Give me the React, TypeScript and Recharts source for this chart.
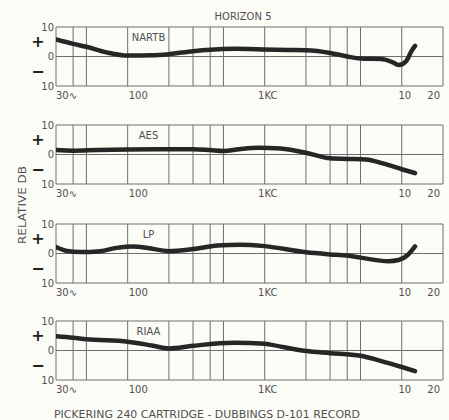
import React from 'react';
import {
  LineChart,
  Line,
  XAxis,
  YAxis,
  CartesianGrid,
  ReferenceDot,
} from 'recharts';

// frequency grid (Hz) shared by all four panels
const gridFreqs = [30, 40, 50, 100, 200, 300, 400, 500, 1000, 2000, 3000, 4000, 5000, 10000, 20000];
const freqLabels: Record<number, string> = {
  30: '30\u223F',
  100: '100',
  1000: '1KC',
  10000: '10',
  20000: '20',
};
const dbTicks = [-10, -5, 0, 5, 10];
const dbLabels: Record<number, string> = { 10: '10', 5: '+', 0: '0', [-5]: '\u2212', [-10]: '10' };

// NARTB curve
const nartbFreq = [30, 40, 50, 70, 100, 150, 200, 300, 400, 600, 1000, 1500, 2000, 3000, 4000, 5000, 7300, 8600, 9500, 10800, 11800, 12500];
const nartbDb = [5.8, 4.3, 3.3, 1.4, 0.3, 0.4, 0.8, 1.8, 2.3, 2.6, 2.4, 2.2, 2.1, 1.2, 0.0, -0.7, -0.9, -2.0, -2.9, -1.5, 1.9, 3.6];

// AES curve
const aesFreq = [30, 40, 60, 100, 200, 300, 400, 500, 650, 900, 1300, 2000, 3000, 4000, 5500, 7500, 10000, 12500];
const aesDb = [1.5, 1.3, 1.5, 1.7, 1.8, 1.8, 1.5, 1.2, 1.8, 2.3, 2.0, 0.6, -1.3, -1.5, -1.7, -3.2, -5.0, -6.3];

// LP curve
const lpFreq = [30, 36, 45, 63, 83, 110, 140, 200, 300, 450, 660, 1000, 2000, 3000, 4000, 5000, 8000, 9500, 11000, 12500];
const lpDb = [2.2, 0.9, 0.5, 0.8, 1.9, 2.4, 1.9, 0.8, 1.5, 2.7, 3.0, 2.5, 0.4, -0.3, -0.7, -1.4, -2.6, -2.2, -0.6, 2.4];

// RIAA curve
const riaaFreq = [30, 40, 50, 100, 150, 200, 300, 600, 1000, 1100, 2000, 3000, 5000, 7000, 10000, 12500];
const riaaDb = [4.8, 4.3, 3.8, 3.0, 1.7, 0.7, 1.6, 2.6, 2.3, 2.0, -0.2, -0.9, -1.8, -3.5, -5.6, -7.0];

const panelNames = ['NARTB', 'AES', 'LP', 'RIAA'];

const FONT = '"DejaVu Sans", sans-serif';
const INK = '#505050';

const toRows = (freq: number[], db: number[]) => freq.map((f, i) => ({ f, db: db[i] }));

const panels = [
  { name: panelNames[0], data: toRows(nartbFreq, nartbDb), top: 27 },
  { name: panelNames[1], data: toRows(aesFreq, aesDb), top: 125 },
  { name: panelNames[2], data: toRows(lpFreq, lpDb), top: 224 },
  { name: panelNames[3], data: toRows(riaaFreq, riaaDb), top: 321 },
];

const FreqTick = (props: any) => {
  const { x, y, payload } = props;
  const label = freqLabels[payload.value];
  if (!label) return <g />;
  let anchor: 'start' | 'middle' | 'end' = 'start';
  let dx = 0;
  if (payload.value === 1000 || payload.value === 10000) {
    anchor = 'middle';
    dx = 3;
  } else if (payload.value === 20000) {
    anchor = 'end';
    dx = -3;
  } else if (payload.value === 100) {
    dx = 1;
  }
  return (
    <text x={x + dx} y={y - 2} dy="0.71em" textAnchor={anchor} fill={INK} fontSize={10} fontFamily={FONT}>
      {label}
    </text>
  );
};

const DbTick = (props: any) => {
  const { y, payload } = props;
  const v = payload.value;
  const label = dbLabels[v];
  if (v === 5 || v === -5) {
    return (
      <text x={38} y={y} dy="0.35em" textAnchor="middle" fill="#222" fontSize={16} fontWeight="bold" fontFamily={FONT}>
        {label}
      </text>
    );
  }
  return (
    <text x={54} y={y} dy="0.35em" textAnchor="end" fill={INK} fontSize={10} fontFamily={FONT}>
      {label}
    </text>
  );
};

const Panel = ({ name, data }: { name: string; data: { f: number; db: number }[] }) => (
  <LineChart width={449} height={84} data={data} margin={{ top: 5, right: 6, bottom: 0, left: 0 }}>
    <CartesianGrid
      stroke="#6e6e6e"
      strokeWidth={1}
      horizontalValues={[-10, 0, 10]}
      verticalValues={gridFreqs}
    />
    <XAxis
      dataKey="f"
      type="number"
      scale="log"
      domain={[30, 20000]}
      ticks={gridFreqs}
      interval={0}
      allowDataOverflow
      tickLine={false}
      axisLine={false}
      height={20}
      tick={<FreqTick />}
    />
    <YAxis
      type="number"
      domain={[-10, 10]}
      ticks={dbTicks}
      interval={0}
      tickLine={false}
      axisLine={false}
      width={56}
      tick={<DbTick />}
    />
    <ReferenceDot
      x={142}
      y={6.5}
      r={0}
      fill="none"
      stroke="none"
      ifOverflow="visible"
      label={{ value: name, position: 'center', fill: INK, fontSize: 10, fontFamily: FONT }}
    />
    <Line
      type="monotone"
      dataKey="db"
      stroke="#262626"
      strokeWidth={4.5}
      dot={false}
      strokeLinecap="round"
      isAnimationActive={false}
    />
  </LineChart>
);

export default function App() {
  return (
    <div
      style={{
        position: 'absolute',
        left: 0,
        top: 0,
        width: 449,
        height: 420,
        background: '#fcfcf7',
        overflow: 'hidden',
      }}
    >
      {panels.map((p) => (
        <div key={p.name} style={{ position: 'absolute', left: 0, top: p.top - 5 }}>
          <Panel name={p.name} data={p.data} />
        </div>
      ))}
      <svg width={449} height={420} style={{ position: 'absolute', left: 0, top: 0, pointerEvents: 'none' }}>
        <text x={243} y={20} textAnchor="middle" fill={INK} fontSize={10} fontFamily={FONT} textLength={57} lengthAdjust="spacingAndGlyphs">
          HORIZON 5
        </text>
        <text
          x={0}
          y={0}
          transform="translate(26 205) rotate(-90)"
          textAnchor="middle"
          fill={INK}
          fontSize={10}
          fontFamily={FONT}
          textLength={78}
          lengthAdjust="spacingAndGlyphs"
        >
          RELATIVE DB
        </text>
        <text x={54} y={418} fill={INK} fontSize={10.5} fontFamily={FONT} textLength={306} lengthAdjust="spacingAndGlyphs">
          PICKERING 240 CARTRIDGE - DUBBINGS D-101 RECORD
        </text>
      </svg>
    </div>
  );
}
